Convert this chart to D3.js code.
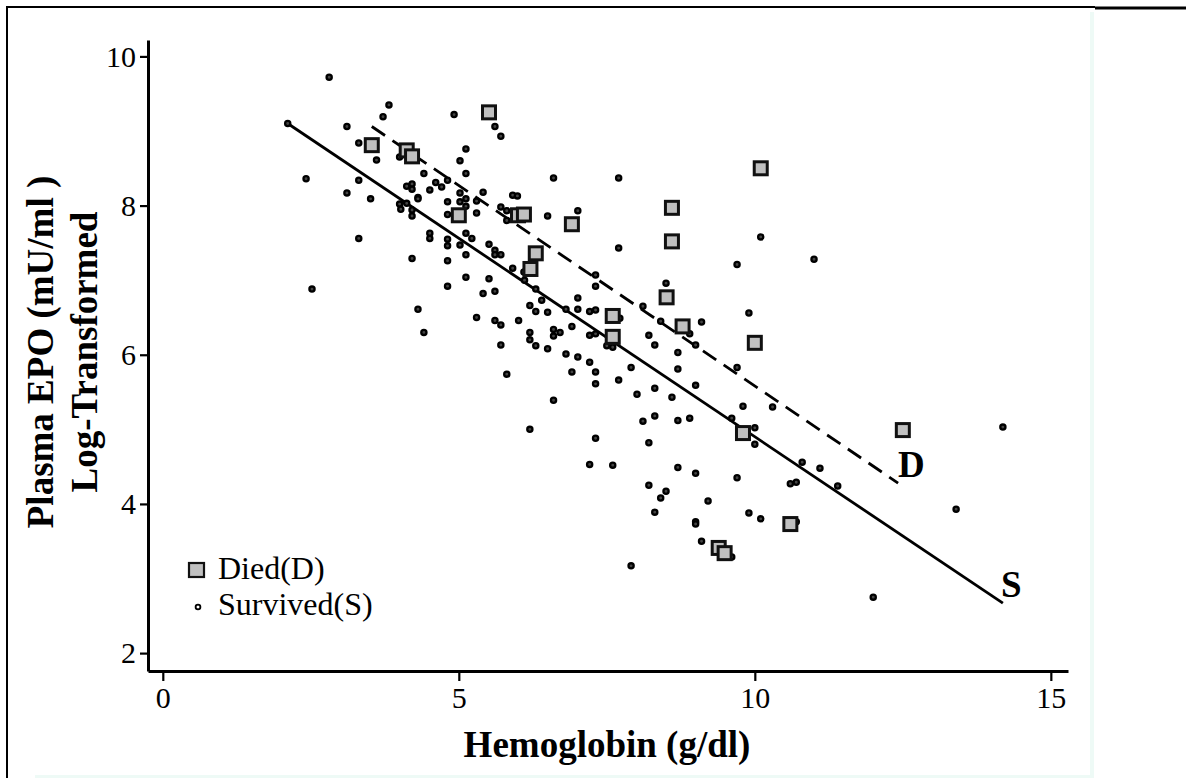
<!DOCTYPE html>
<html>
<head>
<meta charset="utf-8">
<script src="https://cdn.jsdelivr.net/npm/d3@7"></script>
<style>
  body { margin: 0; background: #fff; }
  svg { display: block; font-family: "Liberation Serif", "Times New Roman", serif; }
</style>
</head>
<body>
<svg width="1186" height="778"></svg>
<script>
// Died (D) patients
const diedHb  = [3.53, 4.12, 4.21, 5.51, 5.0, 6.0, 6.10, 6.91, 6.30, 6.21, 8.60, 8.60, 10.1, 7.60, 7.60, 8.51, 8.78, 10.0, 9.80, 12.5, 10.6, 9.39, 9.49];
const diedEpo = [8.81, 8.74, 8.66, 9.25, 7.87, 7.87, 7.88, 7.75, 7.36, 7.15, 7.97, 7.52, 8.50, 6.52, 6.24, 6.77, 6.38, 6.16, 4.95, 4.99, 3.73, 3.41, 3.34];

// Survived (S) patients
const survHb = [
  2.11, 2.81, 3.82, 3.72, 3.11, 3.31, 3.61, 2.42, 3.31, 3.11, 3.51, 3.31, 2.52,
  4.92, 5.61, 5.71, 5.12, 5.02, 5.12, 4.41, 4.0, 6.60, 7.70, 4.12, 4.21, 4.21, 4.61, 4.71, 4.51, 4.81,
  4.31, 4.31, 5.02, 5.12, 5.41, 5.30, 4.81, 5.02, 5.12, 5.91, 5.99, 5.71, 5.81, 5.81, 4.0, 4.12, 4.02,
  4.21, 4.21, 5.30, 4.81, 6.50, 7.01, 4.51, 4.51, 4.81, 4.81, 5.02, 5.12, 5.22, 5.51, 5.61, 5.61, 5.71,
  5.12, 4.21, 7.70, 10.1, 4.81,
  5.91, 6.10, 6.11, 6.30, 6.40, 5.12, 4.81, 5.51, 5.61, 5.41, 4.31, 4.41, 5.30, 5.61, 5.71, 5.71, 6.01,
  6.20, 6.30, 6.50, 6.20, 6.20, 6.30, 6.50, 6.60, 6.71, 6.60, 6.81, 7.01, 7.01, 6.91, 7.21, 7.31, 7.31,
  7.31, 7.21, 7.31, 7.72, 7.50, 7.60, 6.81, 7.01, 7.21, 6.91, 7.31, 7.31, 7.70, 7.91, 5.81, 6.60, 6.20,
  7.31, 7.21, 7.60, 8.01, 8.11, 8.21, 8.31, 8.31, 8.60, 8.70, 8.90, 9.0, 8.70, 8.70, 8.21, 8.31, 8.11,
  8.41, 8.50, 9.10, 8.90, 9.0, 9.70, 9.90, 9.70, 9.80, 10.3, 9.61, 10.0, 10.0, 8.70, 9.0, 9.70, 8.21,
  8.50, 8.41,
  8.31, 9.21, 9.0, 9.0, 9.10, 9.90, 10.1, 7.91, 9.61,
  11.0, 10.8, 11.1, 10.6, 10.7, 11.4, 14.19, 10.7, 13.4, 12.0
];
const survEpo = [
  9.10, 9.72, 9.35, 9.19, 9.06, 8.84, 8.61, 8.36, 8.34, 8.17, 8.09, 7.56, 6.88,
  9.22, 9.06, 8.93, 8.76, 8.60, 8.43, 8.43, 8.65, 8.37, 8.37, 8.26, 8.29, 8.22, 8.31, 8.25, 8.21, 8.34,
  8.11, 8.09, 8.17, 8.09, 8.18, 8.06, 8.05, 8.05, 7.99, 8.14, 8.13, 7.98, 7.93, 7.80, 8.02, 8.03, 7.95,
  7.94, 7.86, 7.90, 7.88, 7.86, 7.93, 7.63, 7.56, 7.55, 7.46, 7.47, 7.63, 7.56, 7.48, 7.40, 7.34, 7.34,
  7.34, 7.29, 7.43, 7.58, 7.26,
  7.16, 7.11, 7.00, 6.88, 6.73, 7.04, 6.92, 7.02, 6.85, 6.82, 6.61, 6.30, 6.50, 6.46, 6.40, 6.13, 6.46,
  6.66, 6.58, 6.57, 6.30, 6.20, 6.12, 6.08, 6.34, 6.30, 6.25, 6.61, 6.76, 6.61, 6.38, 6.58, 6.60, 7.07,
  6.92, 6.26, 6.28, 6.49, 6.12, 6.10, 6.01, 5.97, 5.90, 5.77, 5.77, 5.61, 5.66, 5.83, 5.74, 5.39, 5.00,
  4.88, 4.53, 4.52, 5.47, 5.11, 4.82, 5.55, 5.18, 5.43, 5.12, 5.15, 5.59, 5.81, 6.03, 6.26, 6.13, 6.65,
  6.45, 6.96, 6.44, 6.28, 6.13, 7.21, 6.56, 5.83, 5.31, 5.30, 5.15, 5.02, 4.80, 4.49, 4.41, 4.35, 4.25,
  4.17, 4.08,
  3.89, 4.04, 3.76, 3.73, 3.50, 3.88, 3.80, 3.17, 3.29,
  7.28, 4.56, 4.48, 4.27, 4.29, 4.24, 5.03, 3.76, 3.93, 2.75
];

// fitted regression lines (end points)
const survFitHb  = [2.11, 14.19];
const survFitEpo = [9.10, 2.67];
const diedFitHb  = [3.53, 12.42];
const diedFitEpo = [9.06, 4.28];

const xTicks = [0, 5, 10, 15];
const yTicks = [2, 4, 6, 8, 10];

const svg = d3.select("svg");

// page frame
svg.append("line").attr("x1", 7).attr("y1", 7).attr("x2", 1095).attr("y2", 7)
  .attr("stroke", "#000").attr("stroke-width", 2);
svg.append("line").attr("x1", 1095).attr("y1", 8).attr("x2", 1186).attr("y2", 8)
  .attr("stroke", "#000").attr("stroke-width", 3);
svg.append("line").attr("x1", 7).attr("y1", 6).attr("x2", 7).attr("y2", 778)
  .attr("stroke", "#000").attr("stroke-width", 2);
svg.append("rect").attr("x", 1090).attr("y", 12).attr("width", 4).attr("height", 766)
  .attr("fill", "#eefaf6");
svg.append("rect").attr("x", 35).attr("y", 775).attr("width", 1059).attr("height", 3)
  .attr("fill", "#eefaf6");

const x = d3.scaleLinear().domain([-0.25, 15.29]).range([148, 1068]);
const y = d3.scaleLinear().domain([1.76, 10.22]).range([671, 40]);

// axes
const xAxis = svg.append("g")
  .attr("transform", "translate(0,671)")
  .call(d3.axisBottom(x).tickValues(xTicks).tickSize(10).tickSizeOuter(0).tickPadding(6));
const yAxis = svg.append("g")
  .attr("transform", "translate(148,0)")
  .call(d3.axisLeft(y).tickValues(yTicks).tickSize(8).tickSizeOuter(0).tickPadding(4));

[xAxis, yAxis].forEach(g => {
  g.select(".domain").attr("stroke-width", 3);
  g.selectAll(".tick line").attr("stroke-width", 2.2);
  g.selectAll(".tick text").attr("font-size", 30)
    .attr("font-family", "Liberation Serif").attr("fill", "#000");
});

// axis titles
svg.append("text")
  .attr("x", 607).attr("y", 757)
  .attr("text-anchor", "middle")
  .attr("font-size", 37).attr("font-weight", "bold")
  .text("Hemoglobin (g/dl)");

svg.append("text")
  .attr("transform", "translate(53,352) rotate(-90)")
  .attr("text-anchor", "middle")
  .attr("font-size", 37).attr("font-weight", "bold")
  .text("Plasma EPO (mU/ml )");
svg.append("text")
  .attr("transform", "translate(97,352) rotate(-90)")
  .attr("text-anchor", "middle")
  .attr("font-size", 37).attr("font-weight", "bold")
  .text("Log-Transformed");

// regression lines
const line = d3.line().x(d => x(d[0])).y(d => y(d[1]));
svg.append("path")
  .attr("d", line(d3.zip(survFitHb, survFitEpo)))
  .attr("stroke", "#000").attr("stroke-width", 2.8).attr("fill", "none");
svg.append("path")
  .attr("d", line(d3.zip(diedFitHb, diedFitEpo)))
  .attr("stroke", "#000").attr("stroke-width", 2.8).attr("fill", "none")
  .attr("stroke-dasharray", "16,9");

// survived points
svg.append("g").selectAll("circle")
  .data(d3.zip(survHb, survEpo))
  .enter().append("circle")
  .attr("cx", d => x(d[0]))
  .attr("cy", d => y(d[1]))
  .attr("r", 2.6)
  .attr("fill", "#444")
  .attr("stroke", "#000")
  .attr("stroke-width", 2.3);

// died points
const sq = 13;
svg.append("g").selectAll("rect")
  .data(d3.zip(diedHb, diedEpo))
  .enter().append("rect")
  .attr("x", d => x(d[0]) - sq / 2)
  .attr("y", d => y(d[1]) - sq / 2)
  .attr("width", sq).attr("height", sq)
  .attr("fill", "#c0c0c0")
  .attr("stroke", "#111")
  .attr("stroke-width", 3);

// line labels
svg.append("text").attr("x", x(diedFitHb[1]) + 0)
  .attr("y", y(diedFitEpo[1]) - 6)
  .attr("font-size", 37).attr("font-weight", "bold").text("D");
svg.append("text").attr("x", x(survFitHb[1]) - 2)
  .attr("y", y(survFitEpo[1]) - 6)
  .attr("font-size", 37).attr("font-weight", "bold").text("S");

// legend
const legend = svg.append("g");
legend.append("rect")
  .attr("x", 189).attr("y", 563).attr("width", 15).attr("height", 14)
  .attr("fill", "#c0c0c0").attr("stroke", "#111").attr("stroke-width", 2.2);
legend.append("text").attr("x", 218).attr("y", 579)
  .attr("font-size", 32).text("Died(D)");
legend.append("circle")
  .attr("cx", 198).attr("cy", 607).attr("r", 2.4)
  .attr("fill", "#fff").attr("stroke", "#000").attr("stroke-width", 1.8);
legend.append("text").attr("x", 218).attr("y", 615)
  .attr("font-size", 32).text("Survived(S)");
</script>
</body>
</html>
